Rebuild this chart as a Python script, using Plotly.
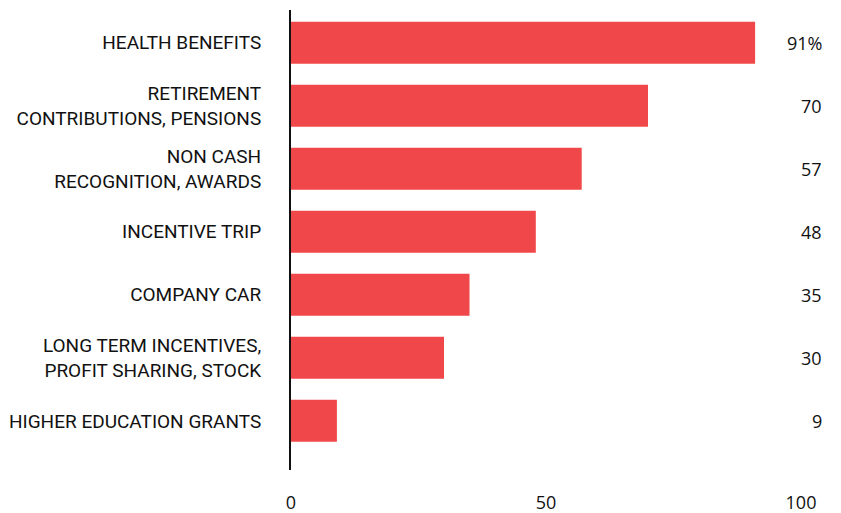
import plotly.graph_objects as go

categories = [
    "HEALTH BENEFITS",
    "RETIREMENT<br>CONTRIBUTIONS, PENSIONS",
    "NON CASH<br>RECOGNITION, AWARDS",
    "INCENTIVE TRIP",
    "COMPANY CAR",
    "LONG TERM INCENTIVES,<br>PROFIT SHARING, STOCK",
    "HIGHER EDUCATION GRANTS",
]
values = [91, 70, 57, 48, 35, 30, 9]
value_labels = ["91%", "70", "57", "48", "35", "30", "9"]
x_ticks = [0, 50, 100]

LABEL_FONT = "Roboto, sans-serif"
NUM_FONT = "Open Sans, Noto Sans, sans-serif"
BAR_COLOR = "#F0484A"

fig = go.Figure()
fig.add_trace(go.Bar(
    x=values,
    y=categories,
    orientation="h",
    marker=dict(color=BAR_COLOR, line=dict(width=0)),
    hoverinfo="skip",
))

for cat, lab in zip(categories, value_labels):
    fig.add_annotation(
        x=1.046, xref="paper", y=cat, yref="y",
        text=lab, showarrow=False, xanchor="right", yanchor="middle",
        font=dict(family=NUM_FONT, size=18, color="#111"),
    )

fig.update_layout(
    width=841, height=513,
    margin=dict(l=291, r=40, t=10, b=43, autoexpand=False),
    plot_bgcolor="white", paper_bgcolor="white",
    showlegend=False,
    bargap=1/3,
    xaxis=dict(
        range=[0, 100], tickvals=x_ticks, ticktext=[str(v) for v in x_ticks],
        showgrid=False, zeroline=False, showline=False, automargin=False,
        ticks="", ticklabelstandoff=20,
        tickfont=dict(family=NUM_FONT, size=18, color="#111"),
    ),
    yaxis=dict(
        type="category", automargin=False,
        categoryorder="array", categoryarray=categories,
        range=[6.78, -0.52],
        showgrid=False, zeroline=False,
        showline=True, linecolor="#111", linewidth=2,
        ticks="", ticklabelstandoff=24,
        tickfont=dict(family=LABEL_FONT, size=19, color="#111"),
    ),
)

fig.write_html("out.html")
